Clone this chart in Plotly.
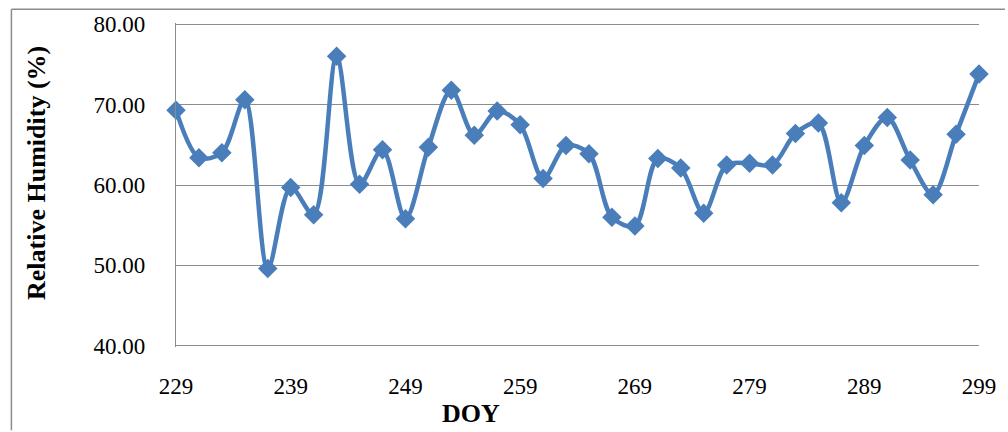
import plotly.graph_objects as go

# Day of year (every second day) and mean relative humidity
doy = list(range(229, 300, 2))
rh = [69.3, 63.4, 64.0, 70.6, 49.6, 59.7, 56.3, 76.0, 60.1, 64.4,
      55.8, 64.7, 71.8, 66.2, 69.2, 67.5, 60.8, 64.9, 63.9, 56.0,
      54.9, 63.3, 62.1, 56.5, 62.5, 62.7, 62.5, 66.4, 67.7, 57.8,
      64.9, 68.4, 63.1, 58.8, 66.3, 73.8]

x_ticks = [229, 239, 249, 259, 269, 279, 289, 299]
y_ticks = [40, 50, 60, 70, 80]

BLUE = "#4A7EBB"
GRID = "#8C8C8C"
FONT = "Liberation Serif"

fig = go.Figure()
fig.add_trace(go.Scatter(
    x=doy, y=rh, mode="lines+markers",
    line=dict(color=BLUE, width=4.5, shape="spline", smoothing=0.9),
    marker=dict(symbol="diamond", size=15, color=BLUE),
    showlegend=False, cliponaxis=False,
))

W, H = 1008, 432
L, R, T, B = 176, 27, 20, 85
pw, ph = W - L - R, H - T - B


def px_x(px):
    return (px - L) / pw


def px_y(py):
    return (H - B - py) / ph


fig.update_layout(
    width=W, height=H,
    margin=dict(l=L, r=R, t=T, b=B),
    paper_bgcolor="white", plot_bgcolor="white",
    font=dict(family=FONT, size=23, color="black"),
    xaxis=dict(
        range=[229, 299], tickvals=x_ticks, ticks="",
        showgrid=False, zeroline=False, showline=False,
        ticklabelstandoff=23,
    ),
    # small padding so the 40 and 80 grid lines are drawn at the edges
    yaxis=dict(
        range=[39.85, 80.15], tickvals=y_ticks, tickformat=".2f", ticks="",
        showgrid=True, gridcolor=GRID, gridwidth=1.3,
        zeroline=False, showline=True, linecolor=GRID, linewidth=1.3,
        ticklabelstandoff=25,
    ),
    annotations=[
        dict(text="<b>DOY</b>", xref="paper", yref="paper",
             x=px_x(472), y=px_y(414), showarrow=False,
             font=dict(family=FONT, size=26), xanchor="center", yanchor="middle"),
        dict(text="<b>Relative Humidity (%)</b>", xref="paper", yref="paper",
             x=px_x(36), y=px_y(171), showarrow=False, textangle=-90,
             font=dict(family=FONT, size=26), xanchor="center", yanchor="middle"),
    ],
    # outer chart frame (top and left edges), kept inside the page
    shapes=[
        dict(type="line", xref="paper", yref="paper",
             x0=px_x(11), x1=px_x(1007), y0=px_y(6), y1=px_y(6),
             line=dict(color=GRID, width=1.5)),
        dict(type="line", xref="paper", yref="paper",
             x0=px_x(11), x1=px_x(11), y0=px_y(6), y1=px_y(431),
             line=dict(color=GRID, width=1.5)),
    ],
)

fig.write_html("out.html")
